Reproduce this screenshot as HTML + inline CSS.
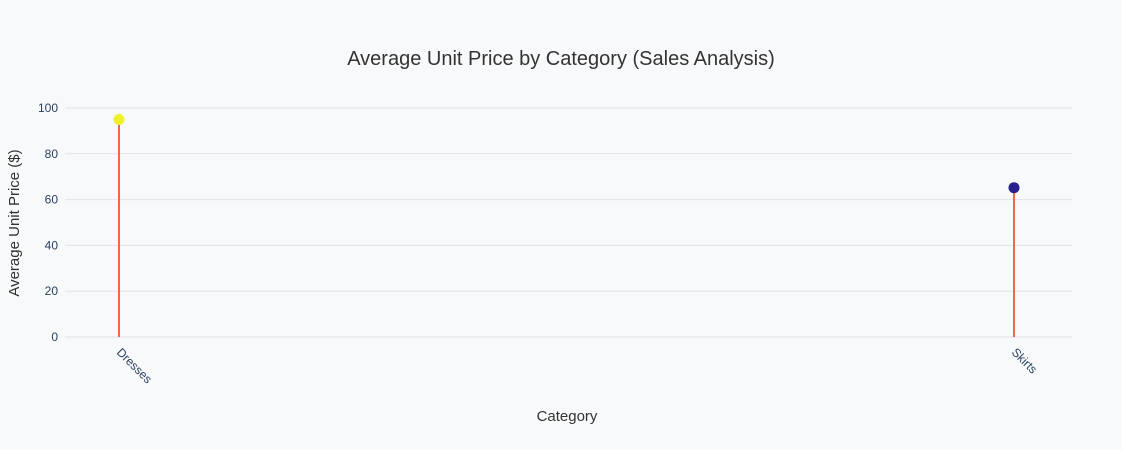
<!DOCTYPE html>
<html><head><meta charset="utf-8"><style>
html,body{margin:0;padding:0;background:#f8f9fa;}
svg{display:block;font-family:"Liberation Sans",Arial,sans-serif;}
</style></head><body>
<svg id="chart" width="1122" height="450">
<rect width="1122" height="450" fill="#f8f9fa"/>
<text x="561" y="65" text-anchor="middle" font-size="20" style="fill:#333">Average Unit Price by Category (Sales Analysis)</text>
<g id="grid"></g><g id="marks"></g><g id="xt"></g>
<text x="567" y="421" text-anchor="middle" font-size="15" fill="#333">Category</text>
<text transform="translate(19,223) rotate(-90)" text-anchor="middle" font-size="15" fill="#333">Average Unit Price ($)</text>
</svg>
<script>
const categories=["Dresses","Skirts"];
const values=[95,65.2];
const markerColors=["#eff229","#2a1f8f"];
const yTicks=[0,20,40,60,80,100];
const ns="http://www.w3.org/2000/svg";
const L=65,R=1072,T=108,B=337;
function y(v){return B-(v/100)*(B-T);}
function x(i){const x0=L+54,x1=R-58;return x0+i*((x1-x0)/(categories.length-1));}
function mk(t,a,p){const e=document.createElementNS(ns,t);for(const k in a)e.setAttribute(k,a[k]);p.appendChild(e);return e;}
const g=document.getElementById('grid'),m=document.getElementById('marks'),xt=document.getElementById('xt');
yTicks.forEach(t=>{
 const l=mk('line',{x1:L,x2:R,y1:y(t),y2:y(t),stroke:'#e1e3e8','stroke-width':1},g);
 
 
 const tx=mk('text',{x:58,y:y(t)+4,'text-anchor':'end','font-size':12,fill:'#2a3f5f'},g);
 tx.textContent=t;
 
 
});
categories.forEach((c,i)=>{
 const s=mk('line',{x1:x(i),x2:x(i),y1:y(0),y2:y(values[i]),stroke:'#f4664a','stroke-width':2},m);
 
 
 const d=mk('circle',{cx:x(i),cy:y(values[i]),r:5.5,fill:markerColors[i]},m);
 
 
 const t=mk('text',{transform:`translate(${x(i)-3},${B+16}) rotate(45)`,'font-size':12,fill:'#2a3f5f'},xt);
 t.textContent=c;
 
 
});
</script>
</body></html>
